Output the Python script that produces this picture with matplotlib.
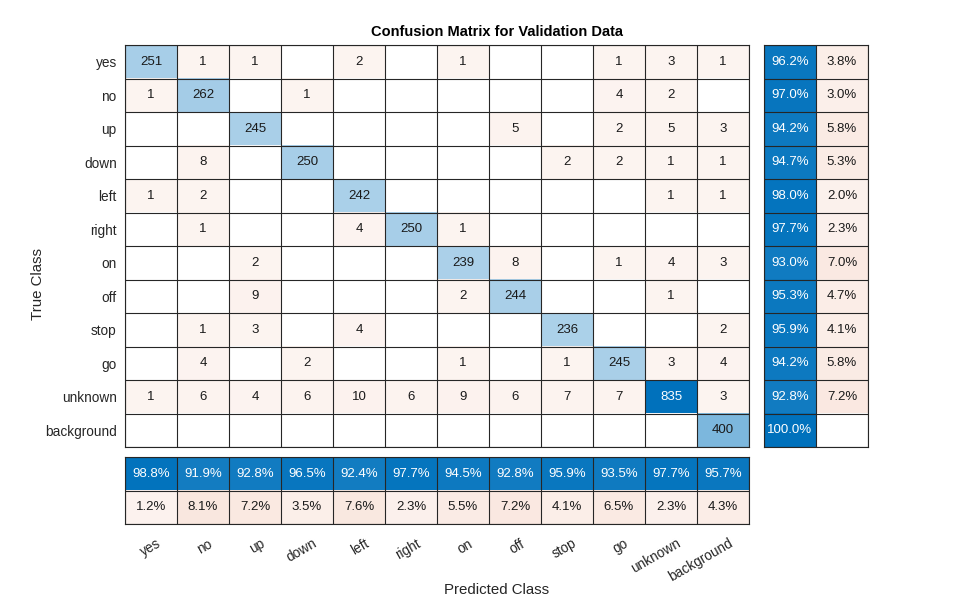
import numpy as np
import matplotlib
matplotlib.use("Agg")
import matplotlib.pyplot as plt
import matplotlib.transforms as mtransforms

plt.rcParams['font.family'] = ['Liberation Sans', 'DejaVu Sans']

# --- data ---
classes = ["yes", "no", "up", "down", "left", "right", "on", "off",
           "stop", "go", "unknown", "background"]

# rows = true class, columns = predicted class
row_yes = [251, 1, 1, 0, 2, 0, 1, 0, 0, 1, 3, 1]
row_no = [1, 262, 0, 1, 0, 0, 0, 0, 0, 4, 2, 0]
row_up = [0, 0, 245, 0, 0, 0, 0, 5, 0, 2, 5, 3]
row_down = [0, 8, 0, 250, 0, 0, 0, 0, 2, 2, 1, 1]
row_left = [1, 2, 0, 0, 242, 0, 0, 0, 0, 0, 1, 1]
row_right = [0, 1, 0, 0, 4, 250, 1, 0, 0, 0, 0, 0]
row_on = [0, 0, 2, 0, 0, 0, 239, 8, 0, 1, 4, 3]
row_off = [0, 0, 9, 0, 0, 0, 2, 244, 0, 0, 1, 0]
row_stop = [0, 1, 3, 0, 4, 0, 0, 0, 236, 0, 0, 2]
row_go = [0, 4, 0, 2, 0, 0, 1, 0, 1, 245, 3, 4]
row_unknown = [1, 6, 4, 6, 10, 6, 9, 6, 7, 7, 835, 3]
row_background = [0, 0, 0, 0, 0, 0, 0, 0, 0, 0, 0, 400]

cm = np.array([row_yes, row_no, row_up, row_down, row_left, row_right,
               row_on, row_off, row_stop, row_go, row_unknown, row_background])

n = len(classes)
BLUE = np.array([0.0, 0.4470, 0.7410])
ORANGE = np.array([0.8500, 0.3250, 0.0980])
LINE = '#262626'


def shade(base, frac):
    # white -> base colour, small floor for any non-zero cell
    a = np.where(frac > 0, 0.06 + 0.94 * frac, 0.0)
    return 1 - a[..., None] * (1 - base), a


# --- colours for the main matrix ---
frac = cm / cm.max()
diag = np.eye(n, dtype=bool)
rgb_b, a_b = shade(BLUE, frac)
rgb_o, a_o = shade(ORANGE, frac)
rgb = np.where(diag[..., None], rgb_b, rgb_o)
alpha = np.where(diag, a_b, a_o)

# summaries
row_ok = np.diag(cm) / cm.sum(axis=1) * 100
col_ok = np.diag(cm) / cm.sum(axis=0) * 100
row_err = 100 - row_ok
col_err = 100 - col_ok

fig = plt.figure(figsize=(9.6, 6.0), dpi=100)
W, H = 960.0, 600.0


def px_axes(x0, y0, x1, y1):
    return fig.add_axes([x0 / W, 1 - y1 / H, (x1 - x0) / W, (y1 - y0) / H])


def grid(ax, nx, ny):
    for i in range(nx + 1):
        ax.axvline(i, color=LINE, lw=0.8)
    for j in range(ny + 1):
        ax.axhline(j, color=LINE, lw=0.8)
    for s in ax.spines.values():
        s.set_color(LINE)
        s.set_linewidth(0.8)


def cell_text(ax, x, y, s, a):
    ax.text(x, y, s, ha='center', va='center', fontsize=9.5,
            color='white' if a > 0.6 else '#1a1a1a')


# main matrix
ax = px_axes(125, 45, 749, 447)
ax.imshow(rgb, extent=(0, n, n, 0), aspect='auto', interpolation='nearest')
ax.set_xlim(0, n)
ax.set_ylim(n, 0)
grid(ax, n, n)
for i in range(n):
    for j in range(n):
        if cm[i, j]:
            cell_text(ax, j + 0.5, i + 0.5, str(cm[i, j]), alpha[i, j])
ax.set_xticks([])
ax.set_yticks(np.arange(n) + 0.5)
ax.set_yticklabels(classes, fontsize=9.8, color=LINE)
ax.tick_params(axis='y', length=0, pad=6)

# row summary
axr = px_axes(764, 45, 868, 447)
ok_rgb, ok_a = shade(BLUE, row_ok / 100)
er_rgb, er_a = shade(ORANGE, row_err / 100)
axr.imshow(np.stack([ok_rgb, er_rgb], axis=1), extent=(0, 2, n, 0),
           aspect='auto', interpolation='nearest')
axr.set_xlim(0, 2)
axr.set_ylim(n, 0)
grid(axr, 2, n)
for i in range(n):
    cell_text(axr, 0.5, i + 0.5, f"{row_ok[i]:.1f}%", ok_a[i])
    if row_err[i] > 0:
        cell_text(axr, 1.5, i + 0.5, f"{row_err[i]:.1f}%", er_a[i])
axr.set_xticks([])
axr.set_yticks([])

# column summary
axc = px_axes(125, 457, 749, 524)
cok_rgb, cok_a = shade(BLUE, col_ok / 100)
cer_rgb, cer_a = shade(ORANGE, col_err / 100)
axc.imshow(np.stack([cok_rgb, cer_rgb], axis=0), extent=(0, n, 2, 0),
           aspect='auto', interpolation='nearest')
axc.set_xlim(0, n)
axc.set_ylim(2, 0)
grid(axc, n, 2)
for j in range(n):
    cell_text(axc, j + 0.5, 0.5, f"{col_ok[j]:.1f}%", cok_a[j])
    if col_err[j] > 0:
        cell_text(axc, j + 0.5, 1.5, f"{col_err[j]:.1f}%", cer_a[j])
axc.set_yticks([])
axc.set_xticks(np.arange(n) + 0.5)
axc.set_xticklabels(classes, fontsize=9.8, color=LINE, rotation=30,
                    ha='right', va='top', rotation_mode='anchor')
axc.tick_params(axis='x', length=0, pad=9)
shift = mtransforms.ScaledTranslation(5 / 100, 0, fig.dpi_scale_trans)
for lab in axc.get_xticklabels():
    lab.set_transform(lab.get_transform() + shift)

# titles / labels centred on the whole block
fig.text(497 / W, 1 - 32 / H, "Confusion Matrix for Validation Data",
         ha='center', va='center', fontsize=10.5, fontweight='bold')
fig.text(497 / W, 1 - 590 / H, "Predicted Class", ha='center',
         va='center', fontsize=10.8, color=LINE)
fig.text(38 / W, 1 - 284 / H, "True Class", ha='center', va='center',
         rotation=90, fontsize=10.8, color=LINE)

fig.savefig("out.png", dpi=100, facecolor='white')
